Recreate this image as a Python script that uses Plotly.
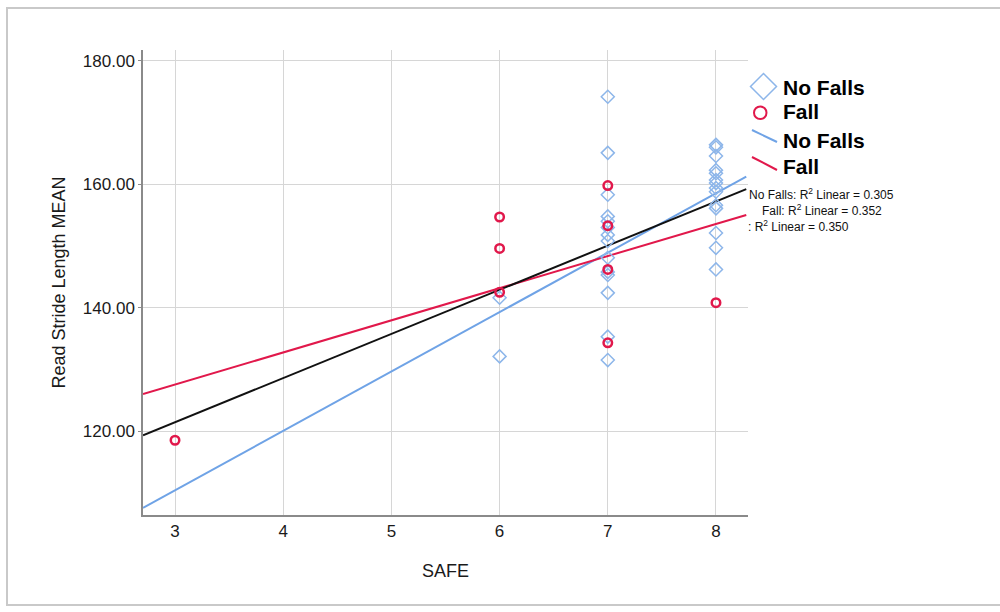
import plotly.graph_objects as go
import numpy as np

# ---------------- data ----------------
no_falls_safe = [6, 6,
                 7, 7, 7, 7, 7, 7, 7, 7, 7, 7, 7, 7, 7, 7,
                 8, 8, 8, 8, 8, 8, 8, 8, 8, 8, 8, 8, 8, 8]
no_falls_stride = [141.6, 132.1,
                   174.2, 165.1, 158.3, 154.8, 154.0, 153.0, 151.8, 150.8, 148.1, 145.8, 145.3, 142.4, 135.3, 131.5,
                   166.4, 166.0, 164.6, 162.3, 161.8, 160.7, 160.2, 159.4, 158.8, 156.6, 156.1, 152.1, 149.7, 146.2]

fall_safe = [3, 6, 6, 6, 7, 7, 7, 7, 8]
fall_stride = [118.5, 154.7, 149.6, 142.5, 159.8, 153.3, 146.2, 134.3, 140.8]

# linear fits: [intercept, slope]
fit_no_falls = [81.5, 9.63]
fit_fall = [111.9, 5.21]
fit_total = [99.94, 7.16]
fit_labels = ["No Falls: R<sup>2</sup> Linear = 0.305",
              "Fall: R<sup>2</sup> Linear = 0.352",
              ": R<sup>2</sup> Linear = 0.350"]

x_ticks = [3, 4, 5, 6, 7, 8]
y_ticks = [120, 140, 160, 180]
x_range = [2.704, 8.296]
y_range = [106.38, 181.78]

BLUE = "#6fa3e6"
BLUE_M = "#8db6ea"
RED = "#e1184b"
FONT = "Liberation Sans, Arial, sans-serif"
TXT = "#1a1a1a"

fig = go.Figure()

fit_x = np.array([2.704, 8.28])
for (b0, b1), col in [(fit_no_falls, BLUE), (fit_fall, RED), (fit_total, "#111111")]:
    fig.add_trace(go.Scatter(x=fit_x, y=b0 + b1 * fit_x, mode="lines",
                             line=dict(color=col, width=2), showlegend=False,
                             hoverinfo="skip"))

fig.add_trace(go.Scatter(x=no_falls_safe, y=no_falls_stride, mode="markers",
                         marker=dict(symbol="diamond-open", size=10, color=BLUE_M,
                                     line=dict(width=1.5, color=BLUE_M)),
                         showlegend=False))
fig.add_trace(go.Scatter(x=fall_safe, y=fall_stride, mode="markers",
                         marker=dict(symbol="circle-open", size=8.5, color=RED,
                                     line=dict(width=2.5, color=RED)),
                         showlegend=False))

# plot area in pixels
L, R, T, B = 143, 748, 50, 515
W, H = 1000, 612


def px(x):
    return (x - L) / (R - L)


def py(y):
    return (B - y) / (B - T)


shapes = []
# outer frame
shapes.append(dict(type="rect", xref="paper", yref="paper",
                   x0=px(7), x1=px(1010), y0=py(8), y1=py(605),
                   line=dict(color="#c9c9c9", width=2), fillcolor="rgba(0,0,0,0)", layer="below"))
# legend glyphs
cx, cy, h = 763.5, 86.5, 13
shapes.append(dict(type="path", xref="paper", yref="paper",
                   path=f"M {px(cx-h)},{py(cy)} L {px(cx)},{py(cy-h)} L {px(cx+h)},{py(cy)} L {px(cx)},{py(cy+h)} Z",
                   line=dict(color=BLUE_M, width=1.5)))
shapes.append(dict(type="circle", xref="paper", yref="paper",
                   x0=px(754), x1=px(766.5), y0=py(106.5), y1=py(119),
                   line=dict(color=RED, width=2)))
shapes.append(dict(type="line", xref="paper", yref="paper",
                   x0=px(752), y0=py(130), x1=px(777), y1=py(142),
                   line=dict(color=BLUE, width=2)))
shapes.append(dict(type="line", xref="paper", yref="paper",
                   x0=px(752), y0=py(157), x1=px(777), y1=py(170),
                   line=dict(color=RED, width=2)))

annotations = []
for txt, yy in [("No Falls", 87), ("Fall", 112), ("No Falls", 140), ("Fall", 166)]:
    annotations.append(dict(text=f"<b>{txt}</b>", xref="paper", yref="paper",
                            x=px(781), y=py(yy), xanchor="left", yanchor="middle",
                            showarrow=False, font=dict(family=FONT, size=21, color="#000")))
for txt, xx, yy in [(fit_labels[0], 747, 194), (fit_labels[1], 760, 210), (fit_labels[2], 746, 226.5)]:
    annotations.append(dict(text=txt, xref="paper", yref="paper",
                            x=px(xx), y=py(yy), xanchor="left", yanchor="middle",
                            showarrow=False, font=dict(family=FONT, size=12, color="#111")))

fig.update_layout(
    width=W, height=H,
    margin=dict(l=L, r=W - R, t=T, b=H - B),
    paper_bgcolor="white", plot_bgcolor="white",
    font=dict(family=FONT, size=17, color=TXT),
    shapes=shapes, annotations=annotations,
    xaxis=dict(range=x_range, tickvals=x_ticks, ticktext=[str(v) for v in x_ticks],
               showgrid=True, gridcolor="#d6d6d6", gridwidth=1,
               showline=True, linecolor="#8a8a8a", linewidth=1.5,
               zeroline=False, ticks="", tickfont=dict(size=17, family=FONT, color=TXT),
               title=dict(text="SAFE", font=dict(size=18, family=FONT, color=TXT), standoff=24)),
    yaxis=dict(range=y_range, tickvals=y_ticks, ticktext=[f"{v:.2f}" for v in y_ticks],
               showgrid=True, gridcolor="#d6d6d6", gridwidth=1,
               showline=True, linecolor="#8a8a8a", linewidth=1.5,
               zeroline=False, ticks="outside", ticklen=3, tickcolor="#8a8a8a",
               tickfont=dict(size=17, family=FONT, color=TXT),
               title=dict(text="Read Stride Length MEAN", font=dict(size=18, family=FONT, color=TXT), standoff=13)),
)

fig.write_html("out.html")
